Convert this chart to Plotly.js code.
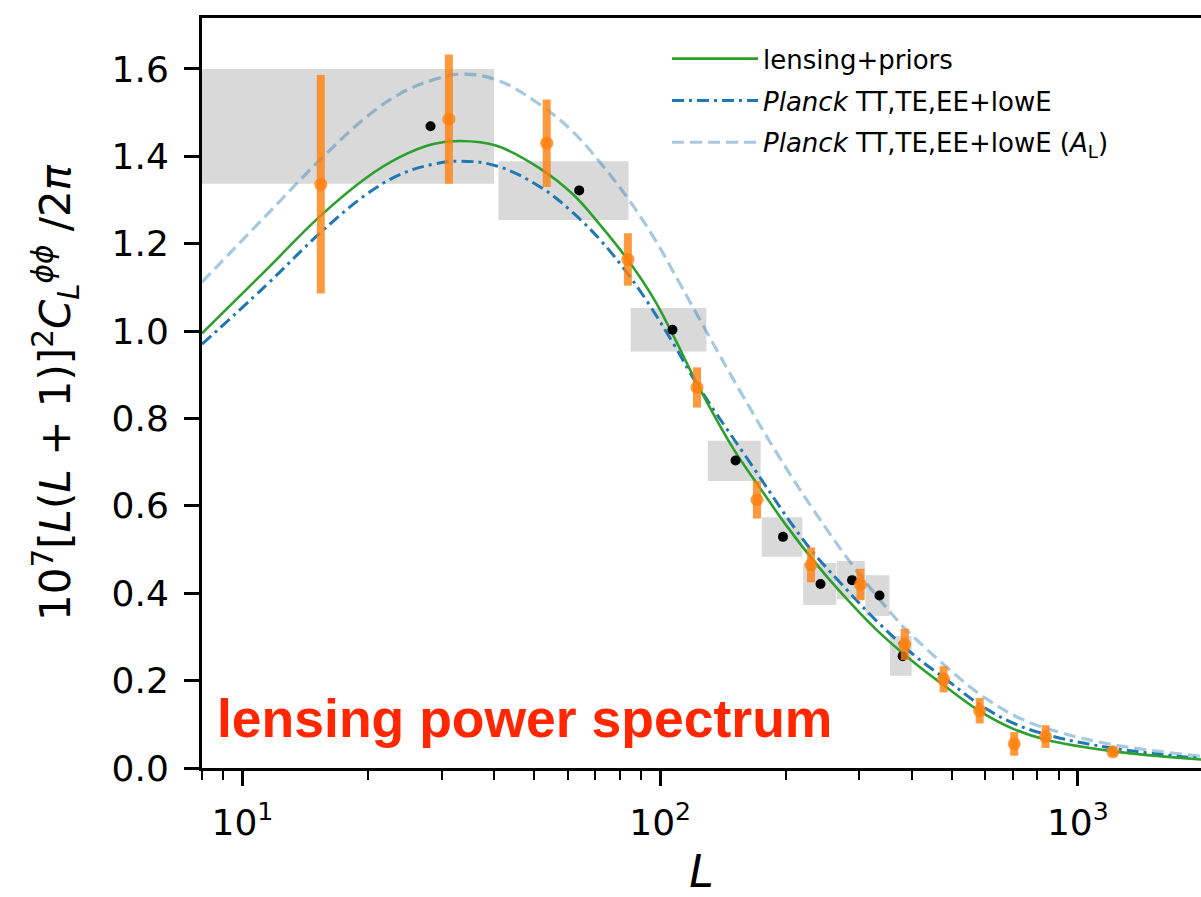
<!DOCTYPE html>
<html><head><meta charset="utf-8">
<script src="https://cdn.plot.ly/plotly-3.0.1.min.js"></script>
<style>html,body{margin:0;padding:0;background:#fff;overflow:hidden}</style>
</head><body><div id="chart" style="width:1201px;height:897px"></div>
<script>
// Binned bandpowers (black points with grey boxes)
const binLmin = [8, 41, 85, 130, 175, 220, 265, 310, 355];
const binLmax = [40, 84, 129, 174, 219, 264, 309, 354, 400];
const binL    = [28.2, 64.0, 107, 151.5, 196.8, 242, 288, 335, 380.6];
const binC    = [1.469, 1.322, 1.003, 0.704, 0.529, 0.421, 0.430, 0.395, 0.256];
const binLo   = [1.337, 1.254, 0.953, 0.657, 0.4835, 0.373, 0.386, 0.348, 0.211];
const binHi   = [1.600, 1.389, 1.053, 0.749, 0.574, 0.469, 0.474, 0.441, 0.302];

// Orange points with error bars
const oL   = [15.4, 31.2, 53.5, 83.7, 122.5, 170.5, 229.7, 301.6, 385, 477, 582, 704, 837, 1213];
const oC   = [1.336, 1.485, 1.430, 1.164, 0.871, 0.614, 0.465, 0.420, 0.283, 0.203, 0.131, 0.055, 0.072, 0.037];
const oErr = [0.25, 0.148, 0.10, 0.06, 0.046, 0.043, 0.040, 0.036, 0.036, 0.030, 0.029, 0.027, 0.026, 0.010];

// lensing+priors (green)
const gL = [8, 11.4, 15.3, 19.8, 23.8, 28.6, 33.2, 40.6, 51.6, 62.0, 71.8, 83.2, 96.4, 107.6, 122.4, 149.9, 173.7, 201.2, 233.1, 270, 330.6, 404.6, 477.5, 584.6, 702.5, 844.8, 1220, 2000];
const gC = [0.995, 1.14, 1.262, 1.351, 1.398, 1.428, 1.435, 1.424, 1.372, 1.312, 1.243, 1.166, 1.075, 0.989, 0.881, 0.730, 0.640, 0.553, 0.474, 0.403, 0.315, 0.242, 0.1895, 0.129, 0.089, 0.064, 0.038, 0.019];

// Planck TT,TE,EE+lowE (blue dash-dot)
const bL = [8, 11.4, 15.3, 19.8, 23.8, 28.6, 33.2, 40.6, 51.6, 62.0, 71.8, 81.7, 92.9, 107.6, 122.4, 161.4, 224.7, 270, 336.7, 404.6, 486.5, 584.6, 702.5, 860, 1220, 2000];
const bC = [0.970, 1.105, 1.2235, 1.313, 1.358, 1.382, 1.389, 1.378, 1.330, 1.270, 1.209, 1.144, 1.069, 0.971, 0.879, 0.709, 0.511, 0.424, 0.328, 0.259, 0.201, 0.144, 0.102, 0.074, 0.045, 0.021];

// Planck TT,TE,EE+lowE (A_L) (light blue dashed)
const lL = [8, 11.4, 15.3, 19.8, 23.8, 28.6, 33.2, 40.6, 51.6, 62.0, 71.8, 83.2, 96.4, 111.7, 124.7, 155.5, 190.4, 233.1, 290.5, 376, 404.6, 486.5, 584.6, 729, 925.5, 1220, 2000];
const lC = [1.112, 1.265, 1.391, 1.490, 1.543, 1.575, 1.588, 1.575, 1.518, 1.455, 1.386, 1.307, 1.215, 1.107, 1.025, 0.862, 0.720, 0.590, 0.461, 0.330, 0.300, 0.230, 0.168, 0.113, 0.079, 0.053, 0.026];

const legendNames = ['lensing+priors', '<i>Planck</i> TT,TE,EE+lowE', '<i>Planck</i> TT,TE,EE+lowE (<i>A</i><sub>L</sub>)'];
const xTickVals = [10, 100, 1000];
const xTickText = ['10<sup>1</sup>', '10<sup>2</sup>', '10<sup>3</sup>'];

const FONT = 'DejaVu Sans, sans-serif';

const minorVals = [];
for (let d = 1; d <= 1000; d *= 10) for (let k = 2; k <= 9; k++) minorVals.push(k * d);

const shapes = binLmin.map((lo, i) => ({
  type: 'rect', xref: 'x', yref: 'y', layer: 'below',
  x0: lo, x1: binLmax[i], y0: binLo[i], y1: binHi[i],
  fillcolor: 'rgb(217,217,217)', line: {width: 0}
}));

const traces = [
  {x: lL, y: lC, mode: 'lines', name: legendNames[2], legendrank: 3, legendgroup: 'c',
   line: {color: 'rgba(31,119,180,0.4)', width: 3.2, dash: '12px,6px', shape: 'spline', smoothing: 1.1}},
  {x: bL, y: bC, mode: 'lines', name: legendNames[1], legendrank: 2, legendgroup: 'b',
   line: {color: '#1f77b4', width: 3, dash: '12px,5px,3px,5px', shape: 'spline', smoothing: 1.1}},
  {x: gL, y: gC, mode: 'lines', name: legendNames[0], legendrank: 1, legendgroup: 'a',
   line: {color: '#2ca02c', width: 2.6, shape: 'spline', smoothing: 1.1}},
  {x: binL, y: binC, mode: 'markers', showlegend: false,
   marker: {color: 'black', size: 10}},
  {x: oL, y: oC, mode: 'markers', showlegend: false,
   marker: {color: 'rgba(255,127,14,0.8)', size: 13},
   error_y: {type: 'data', array: oErr, visible: true, thickness: 8, width: 0, color: 'rgba(255,127,14,0.8)'}}
];

const layout = {
  width: 1201, height: 897,
  margin: {l: 202, r: 0, t: 18, b: 129, pad: 0},
  paper_bgcolor: 'white', plot_bgcolor: 'white',
  font: {family: FONT, color: 'black'},
  showlegend: true,
  legend: {x: 0.4655, y: 0.977, xanchor: 'left', yanchor: 'top', bgcolor: 'rgba(0,0,0,0)',
           font: {family: FONT, size: 26}, itemwidth: 86, traceorder: 'grouped', tracegroupgap: 5},
  xaxis: {
    type: 'log', range: [Math.log10(8), 3.2948],
    tickmode: 'array', tickvals: xTickVals, ticktext: xTickText,
    ticks: 'outside', ticklen: 15, tickwidth: 3, tickcolor: 'black',
    showline: true, linewidth: 3, linecolor: 'black', mirror: true,
    showgrid: false, zeroline: false,
    tickfont: {family: FONT, size: 36}, ticklabelstandoff: 6,
    minor: {tickmode: 'array', tickvals: minorVals, ticks: 'outside', ticklen: 9, tickwidth: 2, tickcolor: 'black', showgrid: false},
    title: {text: '<i>L</i>', font: {family: FONT, size: 44}, standoff: 16}
  },
  yaxis: {
    range: [0, 1.7166], tick0: 0, dtick: 0.2, tickformat: '.1f',
    ticks: 'outside', ticklen: 15, tickwidth: 3, tickcolor: 'black',
    showline: true, linewidth: 3, linecolor: 'black',
    showgrid: false, zeroline: false,
    tickfont: {family: FONT, size: 36}, ticklabelstandoff: 8,
    title: {text: '10<sup>7</sup>[<i>L</i>(<i>L</i> + 1)]<sup>2</sup><i>C</i><sub><i>L</i></sub><sup><i>ϕϕ</i></sup> /2<i>π</i>',
            font: {family: FONT, size: 42}, standoff: 28}
  },
  shapes: shapes,
  annotations: [{
    text: '<b>lensing power spectrum</b>', xref: 'paper', yref: 'paper',
    x: 0.013, y: 0.024, xanchor: 'left', yanchor: 'bottom', showarrow: false,
    font: {family: 'Liberation Sans, Arial, sans-serif', size: 53.5, color: 'rgb(255,38,0)'}
  }]
};

Plotly.newPlot('chart', traces, layout, {displayModeBar: false, staticPlot: true});
</script></body></html>
